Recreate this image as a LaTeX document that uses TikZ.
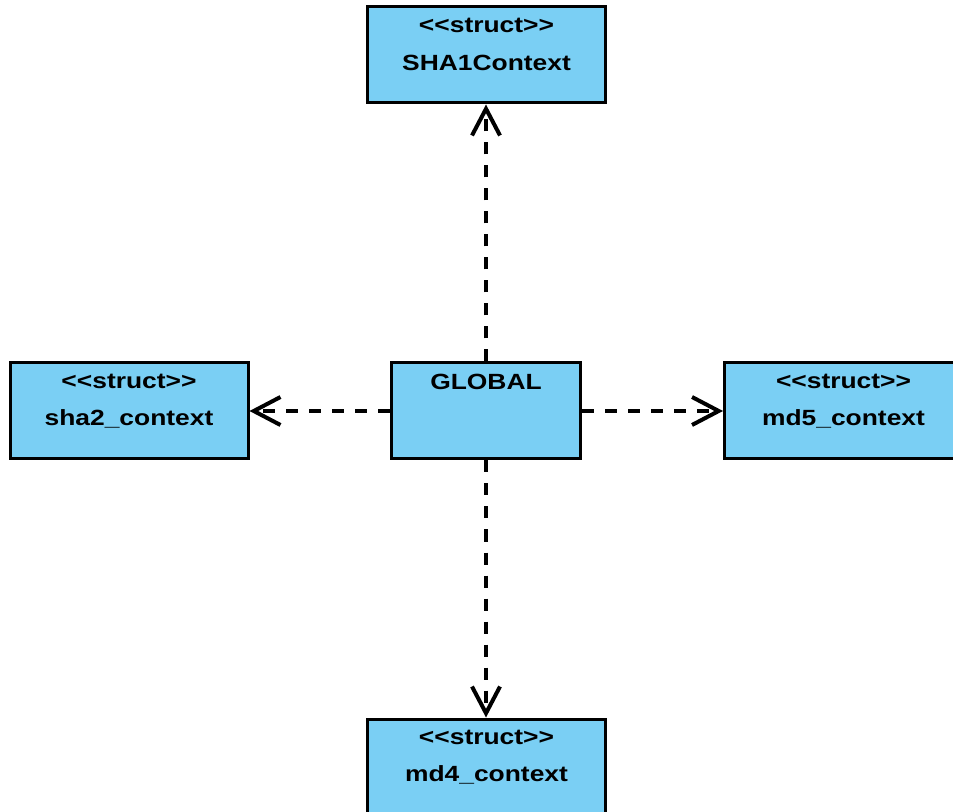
\documentclass[tikz,border=0pt]{standalone}
\usepackage{fontspec}
\usetikzlibrary{arrows.meta,calc}
\newfontfamily\umlfont{Liberation Sans}[FakeStretch=1.2]
\definecolor{classfill}{RGB}{122,207,244}
\tikzset{
  classbox/.style={draw=black, fill=classfill, line width=2.25pt,
    minimum width=178.5pt, minimum height=72pt, inner sep=0pt},
  boxtext/.style={anchor=base, inner sep=0pt,
    font=\umlfont\bfseries\fontsize{16.5}{19}\selectfont},
  dependency/.style={line width=3pt, dash pattern=on 9pt off 8.25pt,
    -{Straight Barb[length=20pt, width=21pt, line width=3pt]}}
}
\begin{document}
\begin{tikzpicture}[x=0.75pt, y=-0.75pt]
  \useasboundingbox (0,0) rectangle (953,812);
  \clip (0,0) rectangle (953,812);
  % class boxes
  \node[classbox] (sha1)   at (486.5, 55)  {};
  \node[classbox] (sha2)   at (129, 411)   {};
  \node[classbox, minimum width=142pt] (global) at (486, 411) {};
  \node[classbox] (md5)    at (843.5, 411) {};
  \node[classbox] (md4)    at (486.5, 767) {};
  % labels
  \node[boxtext] (sha1st) at ($(sha1.north)+(0,27)$) {<{}<struct>{}>};
  \node[boxtext] (sha1nm) at ($(sha1.north)+(0,65)$) {SHA1Context};
  \node[boxtext] (sha2st) at ($(sha2.north)+(0,27)$) {<{}<struct>{}>};
  \node[boxtext] (sha2nm) at ($(sha2.north)+(0,64)$) {sha2\_context};
  \node[boxtext] (globnm) at ($(global.north)+(0,28)$) {GLOBAL};
  \node[boxtext] (md5st)  at ($(md5.north)+(0,27)$) {<{}<struct>{}>};
  \node[boxtext] (md5nm)  at ($(md5.north)+(0,64)$) {md5\_context};
  \node[boxtext] (md4st)  at ($(md4.north)+(0,27)$) {<{}<struct>{}>};
  \node[boxtext] (md4nm)  at ($(md4.north)+(0,64)$) {md4\_context};
  % dependencies
  \draw[dependency] (global.north) -- (global.north |- sha1.south);
  \draw[dependency] (global.south) -- (global.south |- md4.north);
  \draw[dependency] (global.west) -- (sha2.east);
  \draw[dependency] (global.east) -- (md5.west);
\end{tikzpicture}
\end{document}
